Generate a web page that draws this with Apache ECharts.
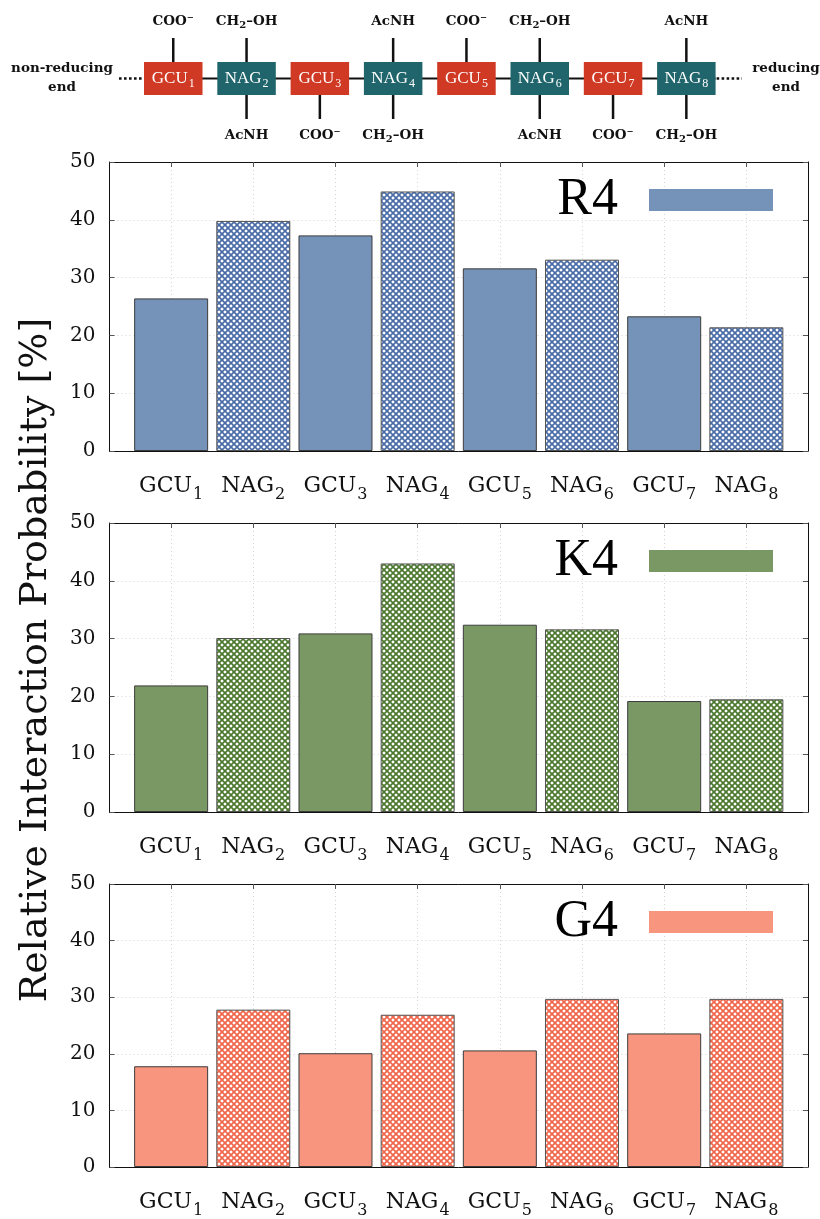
<!DOCTYPE html>
<html>
<head>
<meta charset="utf-8">
<script src="https://cdn.jsdelivr.net/npm/echarts@6/dist/echarts.min.js"></script>
<style>
html,body{margin:0;padding:0;background:#fff;}
#chart{width:820px;height:1219px;}
</style>
</head>
<body>
<div id="chart"></div>
<script>
// ---- data ----
const categories = ['GCU', 'NAG', 'GCU', 'NAG', 'GCU', 'NAG', 'GCU', 'NAG'];
const subscripts = ['1', '2', '3', '4', '5', '6', '7', '8'];
const r4Values = [26.4, 39.8, 37.3, 44.9, 31.6, 33.1, 23.3, 21.4];
const k4Values = [21.9, 30.1, 30.9, 43.0, 32.4, 31.6, 19.2, 19.5];
const g4Values = [17.8, 27.8, 20.1, 26.9, 20.6, 29.7, 23.6, 29.7];
const seriesNames = ['R4', 'K4', 'G4'];
const topGroups = ['COO⁻', 'CH2–OH', '', 'AcNH', 'COO⁻', 'CH2–OH', '', 'AcNH'];
const bottomGroups = ['', 'AcNH', 'COO⁻', 'CH2–OH', '', 'AcNH', 'COO⁻', 'CH2–OH'];
const yAxisTitle = 'Relative Interaction Probability [%]';

// ---- styles ----
const solidColors = ['#7592b8', '#7a9863', '#f8957e'];
const hatchColors = ['#4a6ca6', '#4a772c', '#f0664a'];
const serif = 'DejaVu Serif';

function makePattern(color) {
  const c = document.createElement('canvas');
  const s = 6;
  c.width = s; c.height = s;
  const ctx = c.getContext('2d');
  ctx.fillStyle = '#fff';
  ctx.fillRect(0, 0, s, s);
  ctx.strokeStyle = color;
  ctx.lineWidth = 1.7;
  ctx.beginPath();
  ctx.moveTo(-1, -1); ctx.lineTo(s + 1, s + 1);
  ctx.moveTo(s + 1, -1); ctx.lineTo(-1, s + 1);
  ctx.stroke();
  return { image: c, repeat: 'repeat' };
}

const chart = echarts.init(document.getElementById('chart'), null, { renderer: 'canvas' });

const gridTops = [162, 523, 884];
const gridH = 289;
const allValues = [r4Values, k4Values, g4Values];
const tickPos = categories.map((_, i) => i);

const grids = [], xAxes = [], yAxes = [], series = [], legends = [];

gridTops.forEach((top, g) => {
  grids.push({ left: 109.5, right: 12, top: top, height: gridH });
  const xCommon = {
    type: 'value', gridIndex: g, min: -0.75, max: 7.75,
    axisLine: { show: true, onZero: false, lineStyle: { color: '#111', width: 1 } },
    axisTick: { show: true, inside: true, length: 5, customValues: tickPos, lineStyle: { color: '#555' } }
  };
  xAxes.push(Object.assign({}, xCommon, {
    position: 'bottom',
    axisLabel: {
      customValues: tickPos, margin: 18, color: '#111',
      formatter: v => { const i = Math.round(v); return '{m|' + categories[i] + '}{s|' + subscripts[i] + '}'; },
      rich: {
        m: { fontFamily: serif, fontSize: 22, color: '#111' },
        s: { fontFamily: serif, fontSize: 16, color: '#111', padding: [18, 0, 0, 1] }
      }
    },
    splitLine: { show: true, lineStyle: { color: '#d4d4d4', type: [1, 3], width: 1 } }
  }));
  xAxes.push(Object.assign({}, xCommon, {
    position: 'top', axisLabel: { show: false }, splitLine: { show: false }
  }));
  const yCommon = {
    type: 'value', gridIndex: g, min: 0, max: 50, interval: 10,
    axisLine: { show: true, onZero: false, lineStyle: { color: '#111', width: 1 } },
    axisTick: { show: true, inside: true, length: 5, lineStyle: { color: '#555' } }
  };
  yAxes.push(Object.assign({}, yCommon, {
    position: 'left',
    axisLabel: { fontFamily: serif, fontSize: 20, color: '#111', margin: 14 },
    splitLine: { show: true, lineStyle: { color: '#d4d4d4', type: [1, 3], width: 1 } }
  }));
  yAxes.push(Object.assign({}, yCommon, {
    position: 'right', axisLabel: { show: false }, splitLine: { show: false }
  }));
  const pattern = makePattern(hatchColors[g]);
  series.push({
    name: seriesNames[g], type: 'bar',
    xAxisIndex: g * 2, yAxisIndex: g * 2,
    barWidth: 74,
    itemStyle: { color: solidColors[g], borderColor: '#3c3c3c', borderWidth: 1 },
    data: allValues[g].map((v, i) => ({
      value: [i, v],
      itemStyle: i % 2 === 1 ? { color: pattern, borderColor: '#555' } : {}
    })),
    emphasis: { disabled: true },
    animation: false
  });
  legends.push({
    data: [{ name: seriesNames[g], itemStyle: { color: solidColors[g], borderWidth: 0 } }],
    top: top + 7, right: 42,
    align: 'right', icon: 'rect', itemWidth: 124, itemHeight: 22,
    selectedMode: false,
    textStyle: { fontFamily: 'Liberation Serif', fontSize: 52, color: '#000', padding: [0, 26, 0, 0] }
  });
});

// ---- schematic (top strip) ----
const graphic = [];
const bx0 = 144, bStep = 73.3, bW = 58.5, bY = 62, bH = 33;
const lineY = bY + bH / 2;
graphic.push({ type: 'line', z: 1, shape: { x1: bx0, y1: lineY, x2: bx0 + 7 * bStep + bW, y2: lineY }, style: { stroke: '#111', lineWidth: 2 } });
graphic.push({ type: 'line', z: 1, shape: { x1: 119, y1: lineY, x2: bx0 - 1, y2: lineY }, style: { stroke: '#111', lineWidth: 2.6, lineDash: [2.6, 2.4] } });
graphic.push({ type: 'line', z: 1, shape: { x1: bx0 + 7 * bStep + bW + 1, y1: lineY, x2: 742, y2: lineY }, style: { stroke: '#111', lineWidth: 2.6, lineDash: [2.6, 2.4] } });

const labFont = { fontFamily: serif, fontWeight: 'bold', fontSize: 13.5, fill: '#111' };
const labRich = {
  b: { fontFamily: serif, fontWeight: 'bold', fontSize: 13.5, fill: '#111' },
  bs: { fontFamily: serif, fontWeight: 'bold', fontSize: 10, fill: '#111', padding: [9, 0, 0, 0] }
};
function groupText(t) {
  if (t.indexOf('CH2') === 0) return '{b|CH}{bs|2}{b|' + t.slice(3) + '}';
  return '{b|' + t + '}';
}

categories.forEach((cat, i) => {
  const x = bx0 + i * bStep;
  const cx = x + bW / 2;
  graphic.push({ type: 'rect', z: 2, shape: { x: x, y: bY, width: bW, height: bH }, style: { fill: cat === 'GCU' ? '#d03a24' : '#1f656b' } });
  graphic.push({
    type: 'text', z: 3, x: cx, y: lineY,
    style: {
      text: '{m|' + cat + '}{s|' + subscripts[i] + '}', align: 'center', verticalAlign: 'middle', fill: '#fff',
      rich: {
        m: { fontFamily: 'Liberation Serif', fontSize: 17, fill: '#fff' },
        s: { fontFamily: 'Liberation Serif', fontSize: 12, fill: '#fff', padding: [10, 0, 0, 1] }
      }
    }
  });
  if (topGroups[i]) {
    graphic.push({ type: 'line', z: 1, shape: { x1: cx, y1: 38, x2: cx, y2: bY }, style: { stroke: '#111', lineWidth: 2.5 } });
    graphic.push({ type: 'text', z: 3, x: cx, y: 21, style: { text: groupText(topGroups[i]), rich: labRich, align: 'center', verticalAlign: 'middle' } });
  }
  if (bottomGroups[i]) {
    graphic.push({ type: 'line', z: 1, shape: { x1: cx, y1: bY + bH, x2: cx, y2: 119 }, style: { stroke: '#111', lineWidth: 2.5 } });
    graphic.push({ type: 'text', z: 3, x: cx, y: 135, style: { text: groupText(bottomGroups[i]), rich: labRich, align: 'center', verticalAlign: 'middle' } });
  }
});
graphic.push({ type: 'text', x: 62, y: 78, style: Object.assign({ text: 'non-reducing\nend', align: 'center', verticalAlign: 'middle', lineHeight: 19 }, labFont) });
graphic.push({ type: 'text', x: 786, y: 78, style: Object.assign({ text: 'reducing\nend', align: 'center', verticalAlign: 'middle', lineHeight: 19 }, labFont) });

// y-axis title
graphic.push({
  type: 'text', x: 36, y: 660, rotation: Math.PI / 2,
  style: { text: yAxisTitle, fontFamily: serif, fontSize: 38, fill: '#111', align: 'center', verticalAlign: 'middle' }
});

chart.setOption({
  backgroundColor: '#fff',
  animation: false,
  grid: grids,
  xAxis: xAxes,
  yAxis: yAxes,
  legend: legends,
  series: series,
  graphic: graphic
});
</script>
</body>
</html>
